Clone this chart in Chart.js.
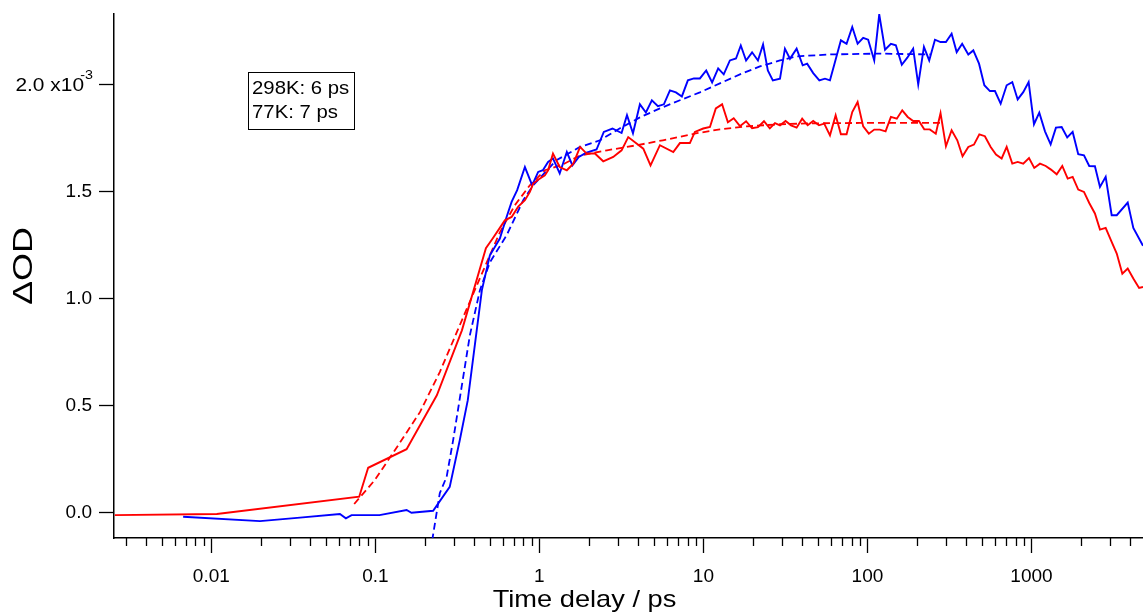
<!DOCTYPE html>
<html>
<head>
<meta charset="utf-8">
<script src="https://cdn.jsdelivr.net/npm/chart.js@4/dist/chart.umd.min.js"></script>
<style>
  body { margin: 0; background: #fff; }
  canvas { display: block; }
</style>
</head>
<body>
<canvas id="myChart" width="1143" height="615"></canvas>
<script>
// time in ps, dOD in units of 1e-3
const redTime = [0.00258, 0.0108, 0.0797, 0.0904, 0.155, 0.237, 0.337, 0.472, 0.519, 0.616, 0.677, 0.743, 0.816, 0.875, 0.917, 0.983,
    1.08, 1.13, 1.21, 1.33, 1.47, 1.61, 1.77, 1.94, 2.18, 2.45, 2.82, 3.17, 3.48, 4.30, 4.76, 5.43, 6.55, 7.19, 8.27, 8.87, 9.97,
    10.96, 11.9, 13.0, 14.1, 15.3, 16.7, 18.2, 19.8, 21.5, 23.4, 25.4, 27.3, 29.3, 31.7, 34.2, 37.0, 40.0, 43.2, 46.7, 50.6, 54.5,
    59.1, 64.0, 68.9, 74.6, 80.8, 87.1, 94.2, 102, 110, 119, 129, 139, 151, 163, 176, 190, 206, 222, 240, 261, 279, 301, 326, 353,
    380, 412, 446, 481, 520, 564, 608, 658, 706, 764, 824, 891, 966, 1040, 1127, 1222, 1315, 1425, 1541, 1663, 1783, 1928, 2090,
    2250, 2437, 2616, 2834, 3054, 3311, 3581, 3862, 4178, 4529, 4786, 5000];
const redOD = [-0.011, -0.006, 0.075, 0.210, 0.297, 0.549, 0.852, 1.236, 1.281, 1.366, 1.382, 1.430, 1.460, 1.499, 1.538, 1.556,
    1.576, 1.600, 1.678, 1.615, 1.600, 1.631, 1.709, 1.678, 1.678, 1.642, 1.662, 1.693, 1.755, 1.701, 1.623, 1.717, 1.685, 1.727,
    1.727, 1.779, 1.795, 1.802, 1.889, 1.908, 1.824, 1.843, 1.806, 1.829, 1.796, 1.801, 1.829, 1.796, 1.820, 1.810, 1.830, 1.810,
    1.799, 1.841, 1.810, 1.830, 1.810, 1.818, 1.763, 1.857, 1.768, 1.768, 1.872, 1.919, 1.805, 1.771, 1.790, 1.790, 1.782, 1.849,
    1.841, 1.880, 1.849, 1.830, 1.830, 1.791, 1.791, 1.771, 1.867, 1.712, 1.787, 1.740, 1.665, 1.709, 1.720, 1.768, 1.759, 1.709,
    1.673, 1.655, 1.709, 1.631, 1.639, 1.631, 1.657, 1.611, 1.631, 1.620, 1.603, 1.581, 1.620, 1.561, 1.569, 1.510, 1.499, 1.447,
    1.398, 1.323, 1.331, 1.273, 1.211, 1.117, 1.141, 1.094, 1.050, 1.055, 1.06];

const blueTime = [0.00673, 0.0198, 0.0347, 0.0608, 0.0661, 0.0716, 0.106, 0.155, 0.166, 0.225, 0.284, 0.327, 0.366, 0.404, 0.446,
    0.499, 0.574, 0.631, 0.677, 0.732, 0.816, 0.904, 0.983, 1.05, 1.13, 1.21, 1.33, 1.47, 1.59, 1.74, 1.92, 2.23, 2.47, 2.79, 3.17,
    3.42, 3.72, 4.10, 4.46, 4.85, 5.28, 5.74, 6.25, 6.80, 7.39, 8.04, 8.75, 9.52, 10.4, 11.3, 12.3, 13.3, 14.5, 15.8, 16.9, 18.2,
    19.8, 21.5, 23.1, 24.7, 26.5, 29.3, 31.4, 33.7, 37.0, 40.3, 42.9, 46.7, 50.9, 55.1, 59.1, 63.4, 68.9, 74.6, 80.8, 87.1, 94.2,
    101, 110, 118, 128, 139, 149, 162, 175, 190, 204, 221, 238, 258, 279, 301, 326, 350, 378, 412, 442, 479, 516, 558, 599, 649,
    706, 764, 824, 891, 961, 1036, 1116, 1209, 1309, 1410, 1528, 1652, 1783, 1928, 2090, 2250, 2437, 2616, 2834, 3083, 3311, 3862,
    4178, 4786, 5000];
const blueOD = [-0.019, -0.039, -0.023, -0.006, -0.026, -0.011, -0.011, 0.013, 0.000, 0.009, 0.121, 0.339, 0.526, 0.783, 1.040,
    1.203, 1.281, 1.382, 1.452, 1.507, 1.615, 1.530, 1.592, 1.600, 1.639, 1.655, 1.585, 1.685, 1.623, 1.662, 1.681, 1.697, 1.779,
    1.795, 1.774, 1.857, 1.773, 1.908, 1.870, 1.927, 1.899, 1.908, 1.973, 1.964, 1.945, 2.020, 2.029, 2.029, 2.066, 2.010, 2.076,
    2.048, 2.113, 2.122, 2.183, 2.113, 2.151, 2.113, 2.188, 2.066, 2.020, 2.028, 2.168, 2.121, 2.168, 2.090, 2.098, 2.054, 2.020,
    2.028, 2.020, 2.106, 2.207, 2.191, 2.269, 2.191, 2.219, 2.210, 2.113, 2.328, 2.163, 2.191, 2.184, 2.093, 2.126, 2.168, 2.001,
    2.176, 2.113, 2.210, 2.199, 2.199, 2.238, 2.152, 2.191, 2.141, 2.160, 2.098, 1.997, 1.970, 1.970, 1.911, 1.997, 2.012, 1.931,
    1.965, 2.012, 1.815, 1.869, 1.782, 1.721, 1.799, 1.802, 1.753, 1.779, 1.675, 1.670, 1.620, 1.619, 1.522, 1.569, 1.390, 1.390,
    1.449, 1.331, 1.247, 1.22];

const redFitTime = [0.0743, 0.0993, 0.138, 0.187, 0.247, 0.327, 0.434, 0.574, 0.709, 0.875, 1.08, 1.37, 1.77, 2.58, 3.93, 5.66,
    9.12, 12.6, 18.4, 29.3, 44.6, 90, 277];
const redFitOD = [0.041, 0.153, 0.316, 0.470, 0.657, 0.876, 1.096, 1.310, 1.437, 1.530, 1.600, 1.625, 1.669, 1.693, 1.717, 1.740,
    1.773, 1.791, 1.805, 1.815, 1.819, 1.821, 1.821];

const blueFitTime = [0.222, 0.247, 0.272, 0.298, 0.337, 0.377, 0.434, 0.499, 0.631, 0.797, 0.917, 1.16, 1.27, 1.77, 2.34, 3.10,
    4.10, 5.43, 7.19, 9.52, 12.6, 16.7, 22.1, 29.3, 37.0, 59.1, 119, 240];
const blueFitOD = [-0.13, 0.091, 0.168, 0.339, 0.596, 0.830, 1.040, 1.170, 1.296, 1.460, 1.530, 1.615, 1.647, 1.709, 1.740, 1.796,
    1.847, 1.889, 1.927, 1.964, 2.006, 2.048, 2.085, 2.113, 2.132, 2.141, 2.145, 2.141];

const xTicks = [0.01, 0.1, 1, 10, 100, 1000];
const legendLines = ['298K: 6 ps', '77K: 7 ps'];

const FONT = 'Liberation Sans, Arial, sans-serif';

function pts(xs, ys) {
    return xs.map(function (x, i) { return { x: x, y: ys[i] }; });
}

// text drawn a bit wider than tall, like the original export
function wideText(ctx, text, x, y, sx) {
    ctx.save();
    ctx.translate(x, y);
    ctx.scale(sx, 1);
    ctx.fillText(text, 0, 0);
    ctx.restore();
}

const extras = {
    id: 'extras',
    afterDraw: function (chart) {
        const ctx = chart.ctx;
        const xs = chart.scales.x;
        const ys = chart.scales.y;
        ctx.save();

        // minor log ticks
        ctx.strokeStyle = '#000';
        ctx.lineWidth = 1.3;
        ctx.beginPath();
        for (let e = -3; e <= 3; e++) {
            for (let m = 2; m <= 9; m++) {
                const v = m * Math.pow(10, e);
                if (v < xs.min || v > xs.max) continue;
                const px = Math.round(xs.getPixelForValue(v)) + 0.5;
                ctx.moveTo(px, xs.top);
                ctx.lineTo(px, xs.top + 8);
            }
        }
        ctx.stroke();

        // 2.0 x10^-3 label
        ctx.fillStyle = '#000';
        ctx.textBaseline = 'middle';
        ctx.textAlign = 'right';
        const y2 = ys.getPixelForValue(2);
        ctx.font = '13px ' + FONT;
        wideText(ctx, '-3', 93, y2 - 9, 1.1);
        ctx.font = '19px ' + FONT;
        wideText(ctx, '2.0 x10', 84, y2 + 1, 1.1);

        // axis titles
        ctx.font = '24px ' + FONT;
        ctx.textAlign = 'center';
        ctx.textBaseline = 'middle';
        wideText(ctx, 'Time delay / ps', 584.5, 600, 1.135);
        ctx.save();
        ctx.translate(23, 266);
        ctx.rotate(-Math.PI / 2);
        ctx.scale(1.28, 1);
        ctx.font = '28px ' + FONT;
        ctx.fillText('ΔOD', 0, 1);
        ctx.restore();

        // annotation box
        ctx.lineWidth = 1;
        ctx.strokeStyle = '#000';
        ctx.strokeRect(248.5, 72.5, 106, 57);
        ctx.font = '18.5px ' + FONT;
        ctx.textAlign = 'left';
        wideText(ctx, legendLines[0], 252, 89, 1.1);
        wideText(ctx, legendLines[1], 252, 113, 1.1);

        ctx.restore();
    }
};

const ctx = document.getElementById('myChart').getContext('2d');
const myChart = new Chart(ctx, {
    type: 'line',
    data: {
        datasets: [
            { label: '298K', data: pts(redTime, redOD), borderColor: '#ff0000', borderWidth: 1.9 },
            { label: '77K', data: pts(blueTime, blueOD), borderColor: '#0000ff', borderWidth: 1.9 },
            { label: '298K fit', data: pts(redFitTime, redFitOD), borderColor: '#ff0000', borderWidth: 1.8, borderDash: [7, 4] },
            { label: '77K fit', data: pts(blueFitTime, blueFitOD), borderColor: '#0000ff', borderWidth: 1.8, borderDash: [7, 4] },
        ],
    },
    options: {
        responsive: false,
        animation: false,
        devicePixelRatio: 1,
        layout: { padding: { top: 14, right: 0, left: 0, bottom: 0 } },
        elements: {
            point: { radius: 0 },
            line: { tension: 0, fill: false },
        },
        plugins: {
            legend: { display: false },
            tooltip: { enabled: false },
        },
        scales: {
            x: {
                type: 'logarithmic',
                min: 0.00255,
                max: 4786,
                afterBuildTicks: function (scale) {
                    scale.ticks = xTicks.map(function (v) { return { value: v }; });
                },
                afterFit: function (scale) {
                    scale.height = 77;
                    scale.paddingLeft = 0;
                    scale.paddingRight = 0;
                },
                grid: {
                    drawOnChartArea: false,
                    drawTicks: true,
                    tickLength: 15,
                    tickColor: '#000',
                    tickWidth: 1.3,
                },
                border: { color: '#000', width: 1.5 },
                ticks: {
                    color: '#000',
                    font: { family: FONT, size: 19 },
                    padding: 12,
                    maxRotation: 0,
                    autoSkip: false,
                    callback: function (value) { return String(value); },
                },
            },
            y: {
                type: 'linear',
                min: -0.118,
                max: 2.33,
                afterFit: function (scale) {
                    scale.width = 114;
                    scale.paddingTop = 0;
                    scale.paddingBottom = 0;
                },
                grid: {
                    drawOnChartArea: false,
                    drawTicks: true,
                    tickLength: 15,
                    tickColor: '#000',
                    tickWidth: 1.3,
                },
                border: { color: '#000', width: 1.5 },
                ticks: {
                    stepSize: 0.5,
                    includeBounds: false,
                    color: '#000',
                    font: { family: FONT, size: 19 },
                    padding: 7,
                    callback: function (value) {
                        return Math.abs(value - 2) < 1e-9 ? '' : value.toFixed(1);
                    },
                },
            },
        },
    },
    plugins: [extras],
});
</script>
</body>
</html>
